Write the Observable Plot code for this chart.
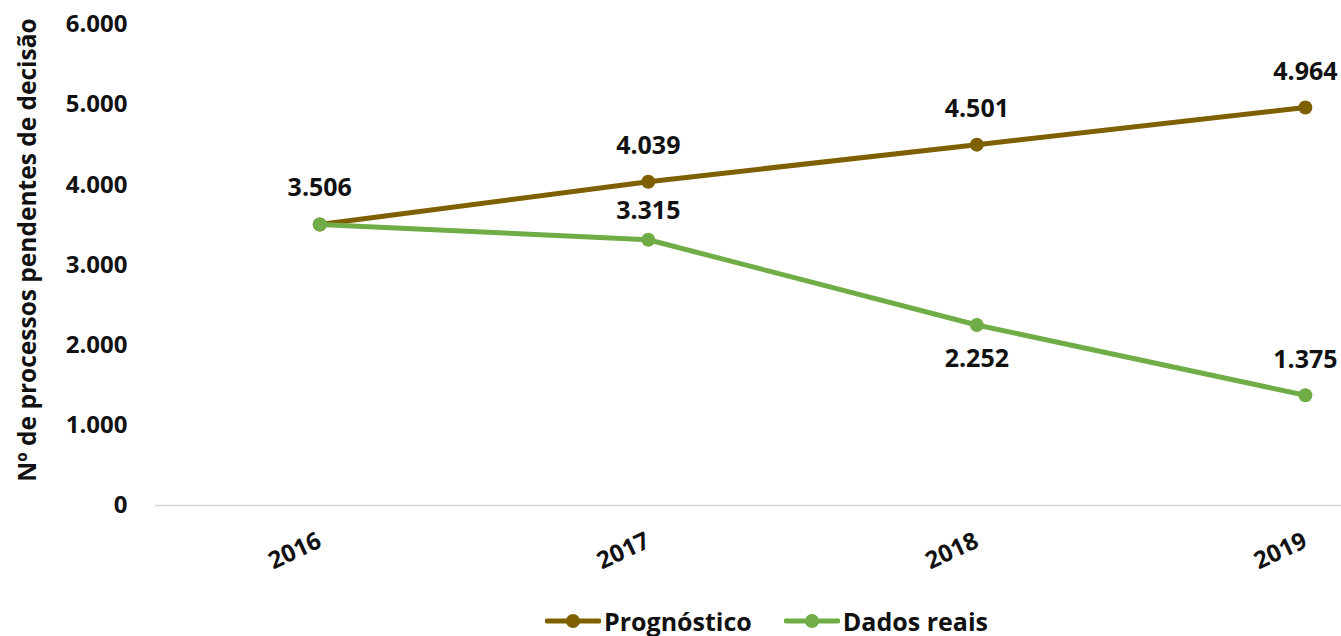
<!DOCTYPE html>
<html>
<head>
<meta charset="utf-8">
<script src="https://cdn.jsdelivr.net/npm/d3@7"></script>
<script src="https://cdn.jsdelivr.net/npm/@observablehq/plot@0.6"></script>
<style>
  body { margin: 0; background: #fff; font-family: "Open Sans", sans-serif; overflow: hidden; }
  #legend { display: flex; justify-content: center; align-items: center; gap: 32px; height: 30px; line-height: 30px; padding-left: 192px; font-weight: bold; font-size: 25px; color: #111; }
  #legend .item { display: flex; align-items: center; gap: 3px; }
</style>
</head>
<body>
<div id="chart"></div>
<div id="legend"></div>
<script>
const years = [2016, 2017, 2018, 2019];
const prognostico = [3506, 4039, 4501, 4964];
const dadosReais = [3506, 3315, 2252, 1375];
const yTicks = [0, 1000, 2000, 3000, 4000, 5000, 6000];
const seriesNames = ["Prognóstico", "Dados reais"];
const seriesColors = ["#7f6000", "#70ad47"];
const yTitle = "Nº de processos pendentes de decisão";

const fmt = d => d3.format(",")(d).replace(/,/g, ".");

const rows = [];
years.forEach((y, i) => rows.push({year: y, value: prognostico[i], series: seriesNames[0]}));
years.forEach((y, i) => rows.push({year: y, value: dadosReais[i], series: seriesNames[1]}));

const prog = rows.filter(d => d.series === seriesNames[0]);
const real = rows.filter(d => d.series === seriesNames[1]);

const font = "Open Sans";
const labelStyle = {x: "year", y: "value", text: d => fmt(d.value), fill: "#111", fontSize: 25, fontWeight: "bold"};

const chart = Plot.plot({
  width: 1341,
  height: 606,
  marginLeft: 155,
  marginRight: 0,
  marginTop: 24,
  marginBottom: 101,
  style: {fontFamily: font, fontWeight: "bold", fontSize: "24px", color: "#111", background: "#fff"},
  x: {type: "linear", domain: [2015.5, 2019.11], ticks: years, tickFormat: "d", tickRotate: -25, tickSize: 0, tickPadding: 34, label: null},
  y: {domain: [0, 6000], ticks: yTicks, tickFormat: fmt, tickSize: 0, tickPadding: 28, label: null},
  color: {domain: seriesNames, range: seriesColors},
  marks: [
    Plot.ruleY([0], {stroke: "#d9d9d9", strokeWidth: 1.5}),
    Plot.line(prog, {x: "year", y: "value", stroke: "series", strokeWidth: 5}),
    Plot.dot(prog, {x: "year", y: "value", fill: "series", r: 7}),
    Plot.line(real, {x: "year", y: "value", stroke: "series", strokeWidth: 5}),
    Plot.dot(real, {x: "year", y: "value", fill: "series", r: 7}),
    Plot.text(prog, {...labelStyle, dy: -36}),
    Plot.text(real.filter(d => d.year === 2017), {...labelStyle, dy: -29}),
    Plot.text(real.filter(d => d.year === 2018), {...labelStyle, dy: 34}),
    Plot.text(real.filter(d => d.year === 2019), {...labelStyle, dy: -35}),
    Plot.text([yTitle], {frameAnchor: "left", textAnchor: "middle", rotate: -90, dx: -127, dy: -15, fill: "#111", fontSize: 24.5, fontWeight: "bold"})
  ]
});
document.getElementById("chart").appendChild(chart);

// legend
const legend = document.getElementById("legend");
seriesNames.forEach((name, i) => {
  const item = document.createElement("div");
  item.className = "item";
  item.innerHTML = `<svg width="56" height="20"><line x1="2" x2="54" y1="10" y2="10" stroke="${seriesColors[i]}" stroke-width="5" stroke-linecap="round"/><circle cx="28" cy="10" r="7" fill="${seriesColors[i]}"/></svg><span>${name}</span>`;
  legend.appendChild(item);
});
</script>
</body>
</html>
